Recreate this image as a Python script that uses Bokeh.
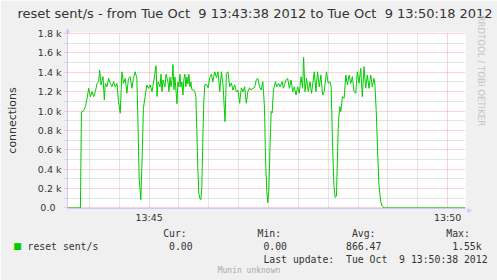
import pandas as pd
from bokeh.plotting import figure
from bokeh.models import (Range1d, FixedTicker, DatetimeTickFormatter, Label, Title)
from bokeh.embed import file_html
from bokeh.resources import INLINE

# ---------------- data ----------------
start_time = "2012-10-09 13:43:38"
end_time = "2012-10-09 13:50:18"

seconds = [0, 13, 14, 16, 18, 19.7, 21.3, 23, 24.7, 26.3, 28, 29.7, 31.3, 32.3, 33.7, 35.7, 37, 38,
           39.7, 41.3, 43, 44.7, 46.3, 48, 49.7, 51.3, 53, 54.7, 56.3, 58, 59.7, 61.3, 63, 64.7,
           66.3, 68, 69.7, 70.7, 72, 73.7, 75, 76.3, 78, 79.7, 81.3, 83, 85, 87, 89, 90, 91, 93,
           94, 95, 96, 98, 99, 101, 102, 103, 104, 105, 106, 107, 108, 110, 111, 112, 113, 114,
           115, 116, 117, 118, 119, 120, 121, 122, 123, 124, 125, 127, 128, 129, 130, 131, 132,
           133, 134, 135, 136, 137, 138, 139.7, 141.3, 143, 144.7, 146, 148, 149.7, 151.3, 153,
           154.7, 156.3, 158.3, 159.7, 161.3, 163, 164.7, 166.3, 168, 169.7, 171.3, 173, 174.7,
           176.3, 178, 179.7, 181.3, 183, 184.7, 186.3, 188, 189.7, 191.3, 193, 194.7, 196.3,
           197, 198, 199, 200.3, 201.3, 202.3, 203.7, 204.7, 205.7, 207, 209, 210.3, 212.3,
           213.7, 215.7, 217, 219.7, 221.3, 223, 224.7, 226.3, 228, 229.7, 231.3, 233, 234.7,
           236.3, 237.3, 238.7, 240.3, 242, 243.7, 245.3, 248, 249.7, 251.3, 253, 254.7, 256.3,
           258, 260.3, 262, 263.7, 265, 266.3, 267.7, 269, 270.3, 271.3, 272.3, 273.7, 274.7,
           276.3, 278, 279.7, 281.3, 283, 284.7, 286.3, 288, 289.7, 291.3, 293, 294.7, 296.3,
           298, 299.7, 301.3, 303, 304.7, 306.3, 308, 309, 310.3, 311.7, 313, 314.7, 316.3,
           318, 400]
resets = [0, 0, 990, 1000, 1045, 1131, 1234, 1148, 1200, 1148, 1200, 1285, 1302, 1422, 1268, 1354,
          1114, 1285, 1250, 1337, 1285, 1250, 1302, 1250, 1285, 1097, 977, 1405, 1285, 1337,
          1183, 1337, 1354, 1234, 1337, 1405, 1337, 943, 310, 85, 517, 1028, 1148, 1268, 1234,
          1268, 1200, 1330, 1467, 1150, 1300, 1250, 1380, 1200, 1320, 1250, 1380, 1300, 1200,
          1350, 1250, 1320, 1480, 1220, 1350, 1075, 1300, 1250, 1380, 1250, 1300, 1165, 1330,
          1380, 1250, 1350, 1280, 1380, 1250, 1300, 1220, 1215, 1200, 1150, 800, 400, 150, 100,
          85, 200, 700, 1100, 1270, 1275, 1240, 1345, 1380, 1300, 1405, 1345, 1405, 1200, 1405,
          1270, 890, 1390, 1405, 1250, 1290, 1215, 1270, 1200, 1215, 1080, 1240, 1200, 1250,
          1080, 1200, 1240, 1215, 1235, 1240, 1320, 1337, 1250, 1217, 1302, 1200, 1030, 516,
          170, 55, 170, 685, 995, 980, 1217, 1302, 1250, 1285, 1250, 1302, 1234, 1320, 1337,
          1234, 1320, 1200, 1250, 1165, 1250, 1183, 1354, 1234, 1553, 1200, 1337, 1200, 1302,
          1183, 1405, 1200, 1405, 1250, 1371, 1165, 1200, 1405, 1285, 1302, 1250, 685, 240,
          109, 120, 514, 890, 1045, 995, 1148, 1131, 1371, 1268, 1371, 1285, 1354, 1200, 1183,
          1405, 1285, 1440, 1148, 1457, 1234, 1371, 1234, 1371, 1250, 1337, 1268, 995, 582,
          240, 69, 17, 0, 0]

x_major_times = ["2012-10-09 13:45:00", "2012-10-09 13:50:00"]
y_ticks = [0, 200, 400, 600, 800, 1000, 1200, 1400, 1600, 1800]
y_tick_labels = ["0.0\u00a0\u00a0", "0.2 k", "0.4 k", "0.6 k", "0.8 k", "1.0 k",
                 "1.2 k", "1.4 k", "1.6 k", "1.8 k"]
y_minor_ticks = [100, 300, 500, 700, 900, 1100, 1300, 1500, 1700]

title_text = "reset sent/s - from Tue Oct\u00a0 9 13:43:38 2012 to Tue Oct\u00a0 9 13:50:18 2012"
y_label = "connections"
series_name = "reset sent/s"
stat_names = ["Cur:", "Min:", "Avg:", "Max:"]
stat_values = ["0.00", "0.00", "866.47", "1.55k"]
last_update = "Last update:\u00a0 Tue Oct\u00a0 9 13:50:38 2012"
footer = "Munin unknown"
watermark = "RRDTOOL / TOBI OETIKER"

# ---------------- build ----------------
t0 = pd.Timestamp(start_time)
t1 = pd.Timestamp(end_time)
xs = [t0 + pd.Timedelta(seconds=s) for s in seconds]

def ms(ts):
    return ts.value / 1e6

major_x = [ms(pd.Timestamp(t)) for t in x_major_times]
minor_x = [ms(t) for t in pd.date_range("2012-10-09 13:44:00", "2012-10-09 13:50:00", freq="30s")
           if ms(t) not in major_x]

GREEN = "#00CC00"
TEXT = "#333333"
AXIS = "#C8C8FF"
MAJOR_GRID = "#F2A8A8"
MINOR_GRID = "#C8C8C8"
MONO = "DejaVu Sans Mono"
SANS = "DejaVu Sans"

p = figure(width=497, height=280, x_axis_type="datetime", output_backend="svg",
           toolbar_location=None, title=None,
           x_range=Range1d(ms(t0), ms(t1)), y_range=Range1d(-6, 1810),
           min_border_left=67, min_border_right=30, min_border_top=32, min_border_bottom=72)
p.border_fill_color = "#F0F0F0"
p.background_fill_color = "white"
p.outline_line_color = None

p.line(xs, resets, line_color=GREEN, line_width=1)

p.xaxis.ticker = FixedTicker(ticks=major_x, minor_ticks=minor_x)
fmt = "%H:%M"
p.xaxis.formatter = DatetimeTickFormatter(seconds=fmt, minsec=fmt, minutes=fmt, hourmin=fmt,
                                          hours=fmt)
p.xaxis.axis_line_color = AXIS
p.xaxis.major_tick_out = 0
p.xaxis.major_tick_in = 0
p.xaxis.minor_tick_out = 0
p.xaxis.minor_tick_in = 0
p.xaxis.major_label_standoff = 3
p.xaxis.major_label_text_font = SANS
p.xaxis.major_label_text_font_size = "9.5px"
p.xaxis.major_label_text_color = TEXT

p.yaxis.ticker = FixedTicker(ticks=y_ticks, minor_ticks=y_minor_ticks)
p.yaxis.major_label_overrides = dict(zip(y_ticks, y_tick_labels))
p.yaxis.axis_line_color = AXIS
p.yaxis.major_tick_in = 0
p.yaxis.major_tick_out = 3
p.yaxis.minor_tick_in = 0
p.yaxis.minor_tick_out = 3
p.yaxis.major_tick_line_color = MAJOR_GRID
p.yaxis.minor_tick_line_color = MINOR_GRID
p.yaxis.major_tick_line_dash = "1 1"
p.yaxis.minor_tick_line_dash = "1 1"
p.yaxis.major_label_standoff = 3
p.yaxis.major_label_text_font = SANS
p.yaxis.major_label_text_font_size = "9.5px"
p.yaxis.major_label_text_color = TEXT
p.yaxis.axis_label = y_label
p.yaxis.axis_label_standoff = 16
p.yaxis.axis_label_text_font = SANS
p.yaxis.axis_label_text_font_size = "11px"
p.yaxis.axis_label_text_font_style = "normal"
p.yaxis.axis_label_text_color = TEXT

for g in (p.xgrid, p.ygrid):
    g.grid_line_color = MAJOR_GRID
    g.grid_line_dash = "1 1"
    g.minor_grid_line_color = MINOR_GRID
    g.minor_grid_line_dash = "1 1"

FL = 67  # frame left in canvas px

# ----- above panel: title (next to frame), footer, y-axis arrow head -----
p.add_layout(Label(x=17 - FL, y=32 - 13, x_units="screen", y_units="screen", text=title_text,
                   text_align="left", text_baseline="middle", text_font=SANS,
                   text_font_size="13px", text_color=TEXT), "above")
p.add_layout(Label(x=248.5 - FL, y=16.3 - 269, x_units="screen", y_units="screen", text=footer,
                   text_align="center", text_baseline="middle", text_font=MONO,
                   text_font_size="8px", text_color="#AAAAAA"), "above")
p.add_layout(Label(x=67 - FL, y=7.6 - 29, x_units="screen", y_units="screen", text="\u25b2",
                   text_align="center", text_baseline="middle", text_font=SANS,
                   text_font_size="6px", text_color=AXIS), "above")

# ----- right panel: watermark -----
p.add_layout(Title(text=watermark, align="left", offset=-17, standoff=20, text_font=SANS,
                   text_font_size="8.6px", text_font_style="normal", text_color="#C4C4C4"),
             "right")

# ----- below panel: legend block (monospace columns), swatch, x-axis arrow head -----
def row(items):
    s = ""
    for text, col in items:
        s += "\u00a0" * max(0, col - len(s)) + text
    return s

x0 = 27
line1 = row([(stat_names[0], 23), (stat_names[1], 39), (stat_names[2], 55), (stat_names[3], 71)])
line2 = row([(series_name, 0),
             (stat_values[0], 28 - len(stat_values[0])),
             (stat_values[1], 44 - len(stat_values[1])),
             (stat_values[2], 60 - len(stat_values[2])),
             (stat_values[3], 77 - len(stat_values[3]))])
line3 = row([(last_update, 40)])
legend_text = line1 + "\n" + line2 + "\n" + line3

p.add_layout(Label(x=x0 - FL, y=35, x_units="screen", y_units="screen", text=legend_text,
                   text_align="left", text_baseline="top", text_font=MONO,
                   text_font_size="9.8px", text_line_height=1.2, text_color=TEXT), "below")
p.add_layout(Label(x=17 - FL, y=26.5, x_units="screen", y_units="screen", text="\u25a0",
                   text_align="center", text_baseline="middle", text_font=SANS,
                   text_font_size="9px", text_color=GREEN), "below")
p.add_layout(Label(x=469 - FL, y=278.5 - 208, x_units="screen", y_units="screen",
                   text="\u25b6", text_align="center", text_baseline="middle", text_font=SANS,
                   text_font_size="6px", text_color=AXIS), "below")

open("out.html", "w").write(file_html(p, INLINE))
